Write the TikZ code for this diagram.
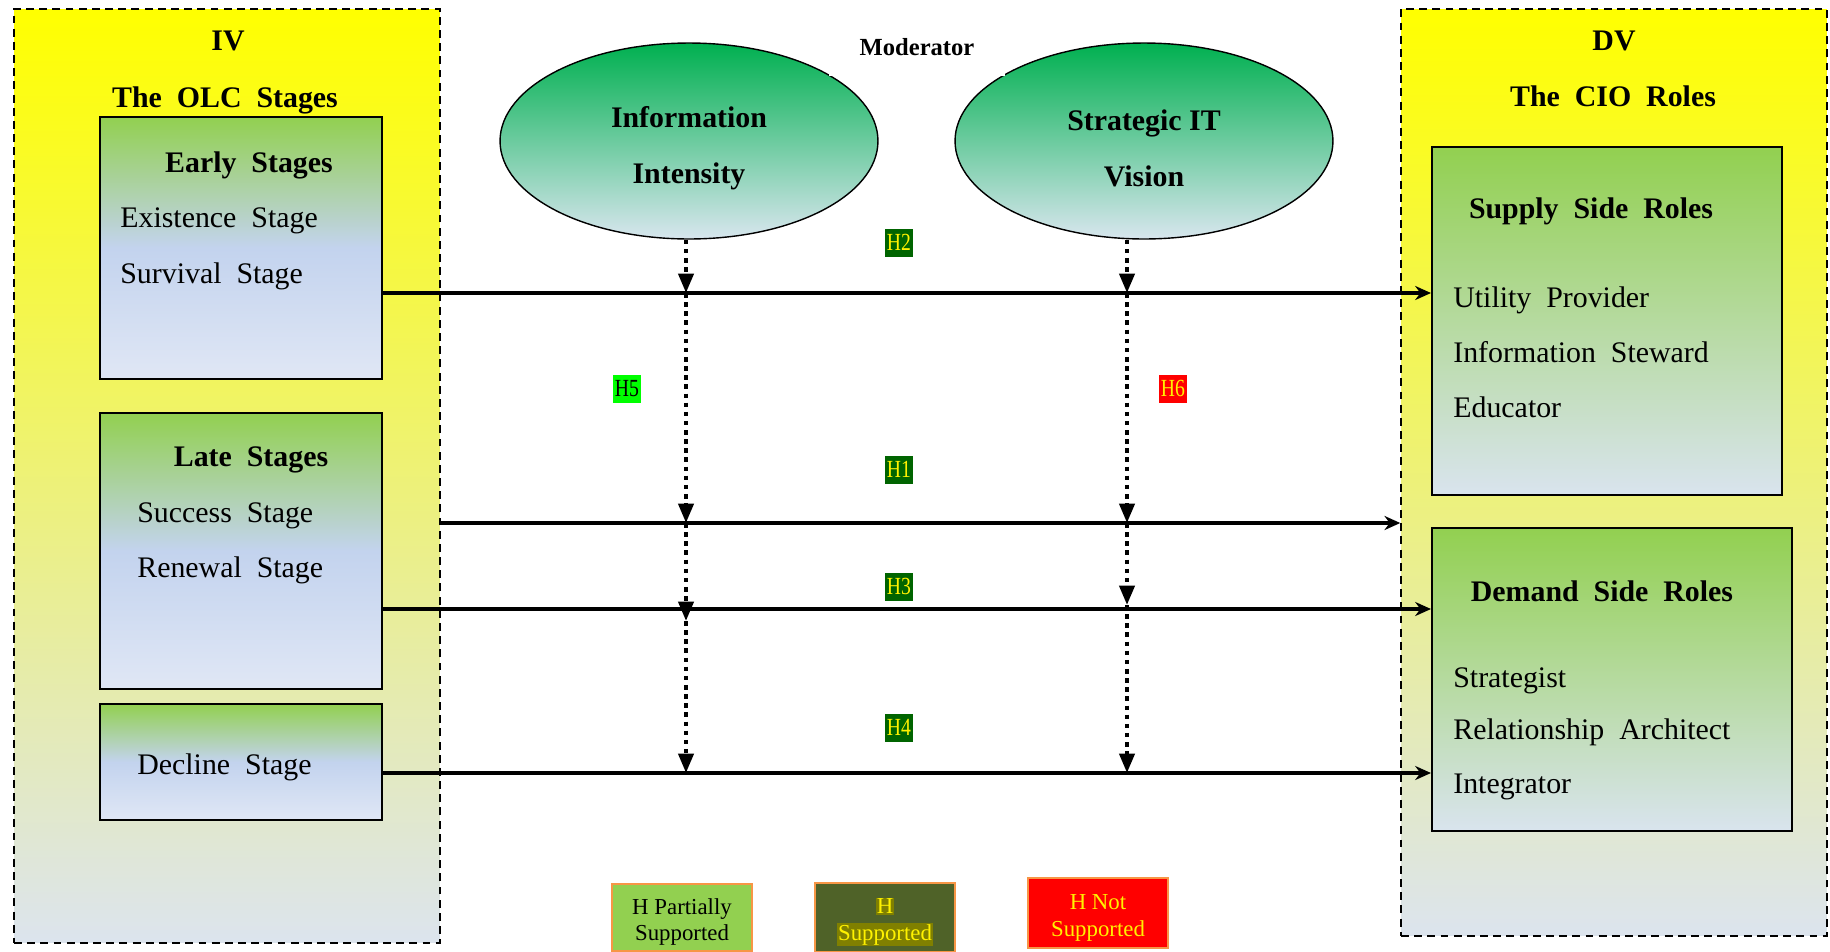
\documentclass[tikz,border=0pt]{standalone}
\usepackage{fontspec}
\setmainfont{Liberation Serif}
\newfontfamily\narrowfont{Liberation Serif}[FakeStretch=0.8]
\usepackage{tikz}
\usetikzlibrary{positioning,arrows.meta,shapes.geometric}

\definecolor{ivyellow}{HTML}{FFFF00}
\definecolor{ivbottom}{HTML}{DCE4EE}
\definecolor{stagegreen}{HTML}{92D050}
\definecolor{stageblue}{HTML}{C3D3EE}
\definecolor{stagepale}{HTML}{E0E7F5}
\definecolor{rolepale}{HTML}{D9E4EE}
\definecolor{ellgreen}{HTML}{00B050}
\definecolor{ellpale}{HTML}{D8E6EE}
\definecolor{hdark}{HTML}{006400}
\definecolor{hbright}{HTML}{00FF00}
\definecolor{legorange}{HTML}{F79646}
\definecolor{legolive}{HTML}{4F6228}
\definecolor{hiliteolive}{HTML}{808000}

\tikzset{
    varbox/.style={draw, line width=0.85pt, dash pattern=on 4.5pt off 3pt,
        top color=ivyellow, bottom color=ivbottom, minimum width=8.52cm},
    stagebox/.style={draw, line width=1.2pt, top color=stagegreen,
        bottom color=stagepale, middle color=stageblue, minimum width=5.64cm},
    rolebox/.style={draw, line width=1.2pt, top color=stagegreen,
        bottom color=rolepale},
    modellipse/.style={draw, ellipse, line width=0.8pt, top color=ellgreen,
        bottom color=ellpale, minimum width=7.56cm, minimum height=3.92cm},
    modtext/.style={align=center, font=\fontsize{17}{32}\selectfont\bfseries},
    headtext/.style={font=\fontsize{17}{20}\selectfont\bfseries},
    itemtext/.style={anchor=west, inner xsep=0pt, font=\fontsize{17}{20}\selectfont},
    hlabel/.style={font={\narrowfont\fontsize{14}{14}\selectfont},
        inner xsep=1pt, inner ysep=2pt, text height=10pt, text depth=1.5pt},
    hsup/.style={hlabel, fill=hdark, text=yellow},
    hpart/.style={hlabel, fill=hbright, text=black},
    hnot/.style={hlabel, fill=red, text=yellow},
    legend/.style={draw=legorange, line width=1pt, minimum width=2.8cm,
        align=center, font=\fontsize{13}{15}\selectfont,
        execute at begin node=\setlength{\fboxsep}{0.6pt}},
    link/.style={-{Stealth[length=9pt,width=8pt]}, line width=1.8pt},
    modlink/.style={-{Triangle[length=11pt,width=8.5pt]}, line width=2.3pt,
        dash pattern=on 2.6pt off 2.6pt}
}

\begin{document}
\begin{tikzpicture}[x=0.02cm, y=-0.02cm]

    \useasboundingbox (0,0) rectangle (1830,951);

    % IV side
    \node[varbox, minimum height=18.68cm] (ivbox) at (227,476) {};
    \node[headtext] (ivtitle) at (228,41) {IV};
    \node[headtext] (olctitle) at (225,100) {The\enspace OLC\enspace Stages};

    % early stages
    \node[stagebox, minimum height=5.24cm] (early) at (241,248) {};
    \node[headtext] (earlytitle) at (249,165) {Early\enspace Stages};
    \node[itemtext] (existence) at (120,221) {Existence\enspace Stage};
    \node[itemtext] (survival) at (120,276) {Survival\enspace Stage};

    % late stages
    \node[stagebox, minimum height=5.52cm] (late) at (241,551) {};
    \node[headtext] (latetitle) at (251,460) {Late\enspace Stages};
    \node[itemtext] (success) at (137,516) {Success\enspace Stage};
    \node[itemtext] (renewal) at (137,570) {Renewal\enspace Stage};

    % decline
    \node[stagebox, minimum height=2.32cm] (decline) at (241,762) {};
    \node[itemtext] (declinetext) at (137,767) {Decline\enspace Stage};

    % DV side
    \node[varbox, minimum height=18.54cm] (dvbox) at (1614,472.5) {};
    \node[headtext] (dvtitle) at (1614,41) {DV};
    \node[headtext] (ciotitle) at (1613,96) {The\enspace CIO\enspace Roles};

    % supply side
    \node[rolebox, minimum width=7cm, minimum height=6.96cm] (supply) at (1607,321) {};
    \node[headtext] (supplytitle) at (1591,211) {Supply\enspace Side\enspace Roles};
    \node[itemtext] (utility) at (1453,300) {Utility\enspace Provider};
    \node[itemtext] (steward) at (1453,352) {Information\enspace Steward};
    \node[itemtext] (educator) at (1453,407) {Educator};

    % demand side
    \node[rolebox, minimum width=7.2cm, minimum height=6.06cm] (demand) at (1612,679.5) {};
    \node[headtext] (demandtitle) at (1602,591) {Demand\enspace Side\enspace Roles};
    \node[itemtext] (strategist) at (1453,681) {Strategist};
    \node[itemtext] (architect) at (1453,732) {Relationship\enspace Architect};
    \node[itemtext] (integrator) at (1453,787) {Integrator};

    % rows of the direct links
    \coordinate (row1) at (0,293);
    \coordinate (row2) at (0,523);
    \coordinate (row3) at (0,609);
    \coordinate (row4) at (0,773);

    \draw[link] (early.east |- row1) -- (supply.west |- row1);
    \draw[link] (ivbox.east |- row2) -- (dvbox.west |- row2);
    \draw[link] (late.east |- row3) -- (demand.west |- row3);
    \draw[link] (decline.east |- row4) -- (demand.west |- row4);

    % moderators
    \node[modellipse] (info) at (689,141) {};
    \node[modtext] (infotext) at (689,148) {Information\\Intensity};
    \node[modellipse] (vision) at (1144,141) {};
    \node[modtext] (visiontext) at (1144,148) {Strategic IT\\Vision};

    \node[fill=white,
        minimum width=3.54cm,
        minimum height=1.16cm,
        font=\fontsize{14}{14}\selectfont\bfseries
    ] (moderator) at (917,47) {Moderator};

    % dotted links from the moderators
    \coordinate (infox) at (686,0);
    \coordinate (visionx) at (1127,0);
    \coordinate (infotip) at (686,621);
    \coordinate (visiontip) at (1127,605);

    \draw[modlink] (info.south -| infox) -- (infox |- row1);
    \draw[modlink] (infox |- row1) -- (infox |- row2);
    \draw[modlink] (infox |- row2) -- (infotip);
    \draw[modlink] (infotip) -- (infox |- row4);

    \draw[modlink] (vision.south -| visionx) -- (visionx |- row1);
    \draw[modlink] (visionx |- row1) -- (visionx |- row2);
    \draw[modlink] (visionx |- row2) -- (visiontip);
    \draw[modlink] (visiontip) -- (visionx |- row4);

    % hypotheses
    \node[hsup] (h2) at (899,243) {H2};
    \node[hpart] (h5) at (627,389) {H5};
    \node[hnot] (h6) at (1173,389) {H6};
    \node[hsup] (h1) at (899,470) {H1};
    \node[hsup] (h3) at (899,587) {H3};
    \node[hsup] (h4) at (899,728) {H4};

    % legend
    \node[legend,
        fill=stagegreen,
        minimum height=1.34cm
    ] (legpartial) at (682,917.5) {\rule{0pt}{14pt}H Partially\\Supported};

    \node[legend,
        fill=legolive,
        text=yellow,
        minimum height=1.34cm
    ] (legsupported) at (885,917.5) {\rule{0pt}{14pt}\colorbox{hiliteolive}{H}\\\colorbox{hiliteolive}{Supported}};

    \node[legend,
        fill=red,
        text=yellow,
        minimum height=1.4cm
    ] (legnot) at (1098,913) {\rule{0pt}{14pt}H Not\\Supported};

\end{tikzpicture}
\end{document}
